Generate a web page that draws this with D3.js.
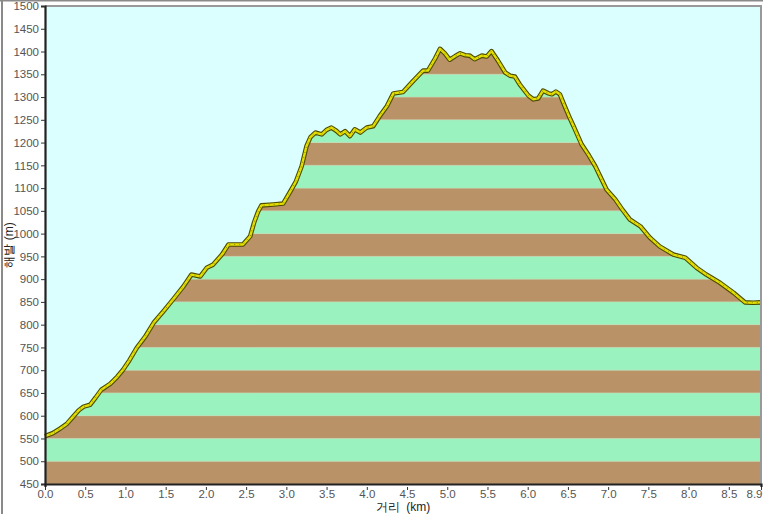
<!DOCTYPE html>
<html><head><meta charset="utf-8">
<script src="https://cdn.jsdelivr.net/npm/d3@7"></script>
<style>body{margin:0;background:#fff}svg{display:block}</style>
</head><body>
<script>
const dist = [0.00,0.10,0.19,0.27,0.35,0.42,0.48,0.56,0.63,0.70,0.81,0.90,0.97,1.05,1.14,1.25,1.35,1.47,1.59,1.72,1.82,1.93,2.01,2.09,2.20,2.28,2.46,2.55,2.60,2.65,2.69,2.84,2.96,3.05,3.12,3.19,3.25,3.30,3.36,3.44,3.50,3.56,3.62,3.67,3.73,3.79,3.85,3.92,4.00,4.08,4.16,4.25,4.33,4.45,4.58,4.70,4.76,4.85,4.91,4.97,5.03,5.10,5.16,5.22,5.28,5.34,5.43,5.49,5.55,5.63,5.72,5.78,5.84,5.90,6.01,6.07,6.13,6.19,6.26,6.30,6.35,6.40,6.46,6.53,6.57,6.67,6.76,6.84,6.98,7.09,7.18,7.27,7.40,7.52,7.64,7.81,7.96,8.10,8.22,8.39,8.56,8.70,8.80,8.90];
const elev = [555,562,572,582,598,612,620,624,640,657,670,686,701,722,749,775,804,829,855,884,910,906,925,932,954,976,976,994,1025,1049,1062,1064,1066,1093,1115,1148,1192,1212,1222,1218,1228,1233,1226,1218,1225,1214,1229,1222,1233,1236,1258,1280,1308,1311,1336,1358,1358,1385,1406,1396,1382,1390,1396,1392,1391,1383,1391,1389,1401,1380,1354,1347,1345,1328,1303,1295,1297,1314,1308,1306,1312,1306,1280,1251,1236,1196,1172,1148,1097,1075,1052,1031,1016,991,972,954,947,925,910,892,870,849,848,849];
const xTicks = [0,0.5,1,1.5,2,2.5,3,3.5,4,4.5,5,5.5,6,6.5,7,7.5,8,8.5,8.9];
const yTicks = [450,500,550,600,650,700,750,800,850,900,950,1000,1050,1100,1150,1200,1250,1300,1350,1400,1450,1500];
const bandStarts = [450,500,550,600,650,700,750,800,850,900,950,1000,1050,1100,1150,1200,1250,1300,1350,1400,1450];
const xLabel = "거리  (km)";
const yLabel = "해발 (m)";

const W = 763, H = 514;
const L = 45, R = 761, T = 6, B = 484;
const x = d3.scaleLinear().domain([0, 8.9]).range([L, R]);
const y = d3.scaleLinear().domain([450, 1500]).range([B, T]);
const pts = dist.map((d, i) => [d, elev[i]]);

const svg = d3.select("body").append("svg").attr("width", W).attr("height", H)
  .style("font-family", "'Liberation Sans', Arial, sans-serif");

// outer frame
svg.append("line").attr("x1",0).attr("x2",W).attr("y1",0.5).attr("y2",0.5).attr("stroke","#8a8a8a").attr("stroke-width",2);
svg.append("line").attr("x1",2).attr("x2",2).attr("y1",0).attr("y2",H).attr("stroke","#8a8a8a").attr("stroke-width",2);

// plot background
svg.append("rect").attr("x", L).attr("y", T).attr("width", R - L).attr("height", B - T).attr("fill", "#dbffff");

// clip under profile
const area = d3.area().x(d => x(d[0])).y0(y(450)).y1(d => y(d[1]));
svg.append("clipPath").attr("id", "under").append("path").attr("d", area(pts));

const g = svg.append("g").attr("clip-path", "url(#under)");
g.selectAll("rect.band").data(bandStarts).join("rect")
  .attr("x", L).attr("width", R - L)
  .attr("y", d => y(d + 50)).attr("height", d => y(d) - y(d + 50))
  .attr("fill", (d, i) => i % 2 === 0 ? "#b99268" : "#9af3bf");
g.selectAll("line.sep").data(bandStarts.slice(1)).join("line")
  .attr("x1", L).attr("x2", R).attr("y1", d => y(d)).attr("y2", d => y(d))
  .attr("stroke", "#c8d8b0").attr("stroke-width", 1).attr("opacity", 0.6);

// profile line
const line = d3.line().x(d => x(d[0])).y(d => y(d[1])).curve(d3.curveLinear);
svg.append("path").attr("d", line(pts)).attr("fill", "none").attr("stroke", "#4d4a00").attr("stroke-width", 4.6).attr("stroke-linejoin", "round");
svg.append("path").attr("d", line(pts)).attr("fill", "none").attr("stroke", "#e3e000").attr("stroke-width", 2.4).attr("stroke-linejoin", "round");
svg.append("path").attr("d", line(pts)).attr("fill", "none").attr("stroke", "#6b6500").attr("stroke-width", 1).attr("stroke-dasharray", "1 4").attr("opacity", 0.7);

// plot border top/right
svg.append("line").attr("x1", L).attr("x2", R + 1).attr("y1", T).attr("y2", T).attr("stroke", "#999").attr("stroke-width", 2);
svg.append("line").attr("x1", R).attr("x2", R).attr("y1", T).attr("y2", B).attr("stroke", "#999").attr("stroke-width", 2);

// axes
const yAxis = d3.axisLeft(y).tickValues(yTicks).tickSize(4).tickPadding(2).tickFormat(d3.format("d"));
const ya = svg.append("g").attr("transform", `translate(${L},0)`).call(yAxis);
const xAxis = d3.axisBottom(x).tickValues(xTicks).tickSize(3).tickPadding(3).tickFormat(d3.format(".1f"));
const xa = svg.append("g").attr("transform", `translate(0,${B})`).call(xAxis);
[ya, xa].forEach(a => {
  a.select(".domain").attr("stroke", "#222").attr("stroke-width", 2.2);
  a.selectAll(".tick line").attr("stroke", "#333");
  a.selectAll(".tick text").attr("fill", "#555").style("font-size", "11.5px").style("font-family", "'Liberation Sans', Arial, sans-serif");
});
xa.selectAll(".tick line").attr("y1", 3).attr("y2", 6);
xa.selectAll(".tick").filter(d => d === 8.9).select("text").attr("text-anchor", "end").attr("x", 1);

// axis titles
svg.append("text").attr("x", (L + R) / 2).attr("y", 511).attr("text-anchor", "middle")
  .style("font-size", "12px").attr("fill", "#222").attr("xml:space", "preserve").style("white-space", "pre").text(xLabel);
svg.append("text").attr("transform", `translate(13,${(T + B) / 2}) rotate(-90)`).attr("text-anchor", "middle")
  .style("font-size", "12px").attr("fill", "#222").text(yLabel);
</script>
</body></html>
